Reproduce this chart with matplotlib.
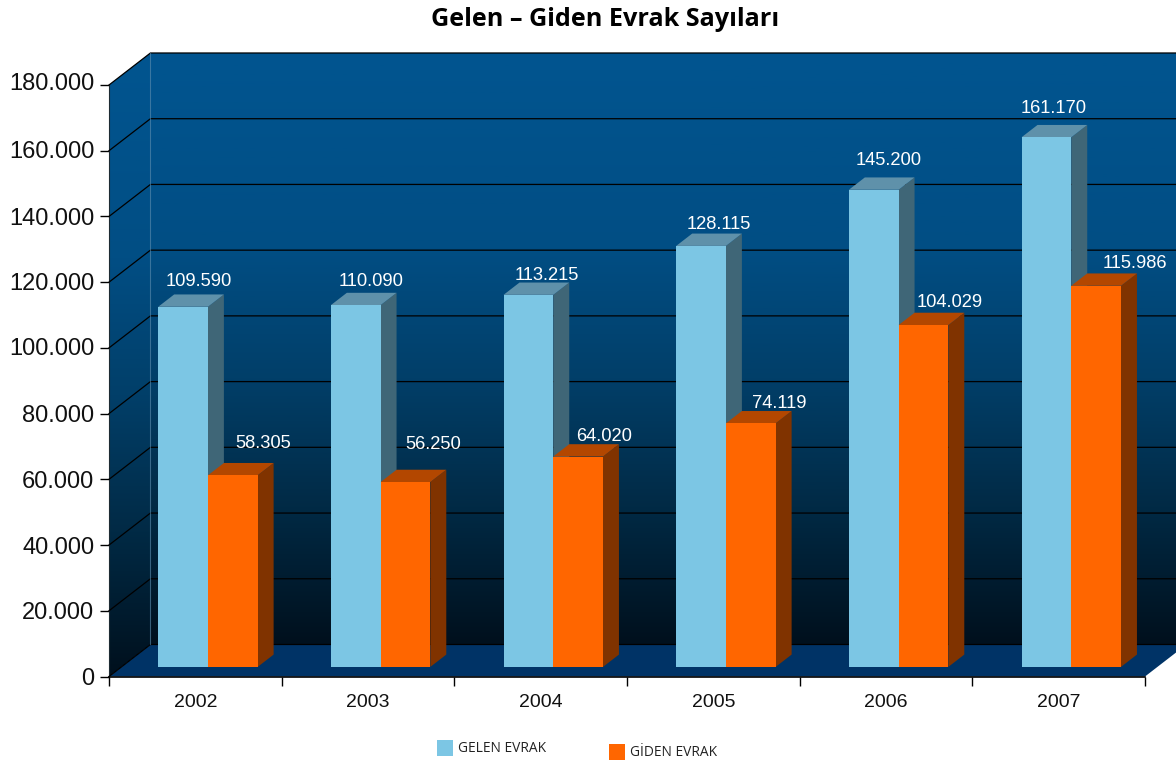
#!/usr/bin/env python
# -*- coding: utf-8 -*-

import numpy as np
import matplotlib
matplotlib.use('Agg')
import matplotlib.pyplot as plt
from matplotlib.colors import LinearSegmentedColormap
from matplotlib.patches import Polygon, Rectangle
from matplotlib.ticker import FuncFormatter
from matplotlib.transforms import ScaledTranslation

years = ['2002', '2003', '2004', '2005', '2006', '2007']
gelen = [109590, 110090, 113215, 128115, 145200, 161170]
giden = [58305, 56250, 64020, 74119, 104029, 115986]
y_ticks = [0, 20000, 40000, 60000, 80000, 100000, 120000, 140000, 160000, 180000]

# label offsets from the top middle of each bar, in pixels (they are irregular in the original)
gelen_label_dx = [16, 15, 18, 18, 15, 7]
gelen_label_dy = [25, 24, 19, 21, 29, 29]
giden_label_dx = [30, 28, 26, 28, 26, 39]
giden_label_dy = [32, 38, 20, 20, 23, 22]
# the y tick labels drift a little upwards from their ticks, in pixels
y_label_nudge = [0, 0, 0, 0, 0, 1, 1, 0, 1, 3.5]

W, H = 1176, 766
DEPTH_X = 0.24      # full depth of the box, in category units
DEPTH_Y = 9740      # full depth of the box, in value units
BAR_Z = 0.3
BAR_DEPTH = 0.385
BAR_GAP = 0.213
BAR_W = 0.288

FONT = 'Liberation Sans'
wall_cmap = LinearSegmentedColormap.from_list(
    'wall', [(0, '#015590'), (0.33, '#014e84'), (0.55, '#013f69'), (0.77, '#012a45'), (1, '#00101d')])


def pt(x, v, z=0.0):
    return (x + z * DEPTH_X, v + z * DEPTH_Y)


def gradient_poly(ax, corners, extent):
    poly = Polygon(corners, closed=True, facecolor='none', edgecolor='none', clip_on=False, zorder=1)
    ax.add_patch(poly)
    grad = np.linspace(0, 1, 256).reshape(-1, 1)
    im = ax.imshow(grad, cmap=wall_cmap, extent=extent, aspect='auto', origin='upper', zorder=1)
    im.set_clip_box(ax.figure.bbox)
    im.set_clip_path(poly)


def draw_bar(ax, x0, value, front, side, top):
    x1 = x0 + BAR_W
    z0, z1 = BAR_Z, BAR_Z + BAR_DEPTH
    ax.add_patch(Polygon([pt(x1, 0, z0), pt(x1, 0, z1), pt(x1, value, z1), pt(x1, value, z0)],
                         facecolor=side, edgecolor='none', clip_on=False, zorder=4))
    ax.add_patch(Polygon([pt(x0, value, z0), pt(x1, value, z0), pt(x1, value, z1), pt(x0, value, z1)],
                         facecolor=top, edgecolor='none', clip_on=False, zorder=4))
    ax.add_patch(Polygon([pt(x0, 0, z0), pt(x1, 0, z0), pt(x1, value, z0), pt(x0, value, z0)],
                         facecolor=front, edgecolor='none', clip_on=False, zorder=4))


fig = plt.figure(figsize=(W / 100, H / 100), dpi=100)
ax = fig.add_axes([109 / W, (H - 676.5) / H, 1036 / W, 591.5 / H])
ax.patch.set_visible(False)

n = len(years)
vmax = y_ticks[-1]

# back wall, side wall and floor
gradient_poly(ax, [pt(0, 0, 1), pt(n, 0, 1), pt(n, vmax, 1), pt(0, vmax, 1)],
              [DEPTH_X, n + DEPTH_X, DEPTH_Y, vmax + DEPTH_Y])
gradient_poly(ax, [pt(0, 0, 0), pt(0, 0, 1), pt(0, vmax, 1), pt(0, vmax, 0)],
              [0, DEPTH_X, 0, vmax + DEPTH_Y])
ax.add_patch(Polygon([pt(0, 0, 0), pt(n, 0, 0), pt(n, 0, 1), pt(0, 0, 1)],
                     facecolor='#003366', edgecolor='none', clip_on=False, zorder=2))

# grid lines on both walls
for t in y_ticks:
    xs, ys = zip(pt(0, t, 0), pt(0, t, 1), pt(n, t, 1))
    ax.plot(xs, ys, color='black', lw=0.9, clip_on=False, zorder=3)
xs, ys = zip(pt(0, 0, 1), pt(0, vmax, 1))
ax.plot(xs, ys, color='#5f8fb0', lw=0.8, alpha=0.6, clip_on=False, zorder=3)

# bars
for i in range(n):
    x_a = i + BAR_GAP
    x_b = x_a + BAR_W
    draw_bar(ax, x_a, gelen[i], '#7cc6e4', '#3f6677', '#5f91aa')
    draw_bar(ax, x_b, giden[i], '#ff6600', '#803300', '#b34700')
    for x0, val, dx, dy in ((x_a, gelen[i], gelen_label_dx[i], gelen_label_dy[i]),
                            (x_b, giden[i], giden_label_dx[i], giden_label_dy[i])):
        ax.annotate(f'{val:,}'.replace(',', '.'), xy=pt(x0 + BAR_W / 2, val, BAR_Z), xytext=(dx, dy),
                    xycoords='data', textcoords='offset pixels', ha='center', va='center',
                    color='white', fontsize=13.2, family=FONT, zorder=6, annotation_clip=False)

ax.set_xlim(0, n)
ax.set_ylim(0, vmax)

ax.set_yticks(y_ticks)
ax.yaxis.set_major_formatter(FuncFormatter(lambda v, p: f'{int(v):,}'.replace(',', '.')))
ax.tick_params(axis='y', length=6.5, width=1, pad=4, labelsize=17, labelcolor='#111111')
ax.set_xticks(range(n + 1))
ax.set_xticklabels([])
ax.set_xticks([i + 0.5 for i in range(n)], minor=True)
ax.set_xticklabels(years, minor=True)
ax.tick_params(axis='x', which='major', length=6.5, width=1)
ax.tick_params(axis='x', which='minor', length=0, pad=12.5, labelsize=14, labelcolor='#111111')
for lab in ax.get_xticklabels(minor=True):
    lab.set_family(FONT)
for lab, nudge in zip(ax.get_yticklabels(), y_label_nudge):
    lab.set_family(FONT)
    lab.set_transform(lab.get_transform() + ScaledTranslation(0, nudge / 100, fig.dpi_scale_trans))

ax.spines['top'].set_visible(False)
ax.spines['right'].set_visible(False)
ax.spines['left'].set_color('#1d2b33')
ax.spines['bottom'].set_linewidth(1.2)
ax.spines['bottom'].set_zorder(7)

fig.text(605 / W, 1 - 19.5 / H, 'Gelen – Giden Evrak Sayıları', ha='center', va='center',
         fontsize=18.2, family='Open Sans', weight='bold', color='black')

# legend, the two entries sit at different heights in the original
for name, color, lx, ly in (('GELEN EVRAK', '#7cc6e4', 437, 748), ('GİDEN EVRAK', '#ff6600', 609, 752)):
    fig.add_artist(Rectangle((lx / W, 1 - (ly + 8) / H), 16 / W, 16 / H, transform=fig.transFigure,
                             facecolor=color, edgecolor='none'))
    fig.text((lx + 21) / W, 1 - (ly + 1) / H, name, ha='left', va='center', fontsize=9.9,
             family='Open Sans', color='#222222')

fig.savefig('out.png', dpi=100)
